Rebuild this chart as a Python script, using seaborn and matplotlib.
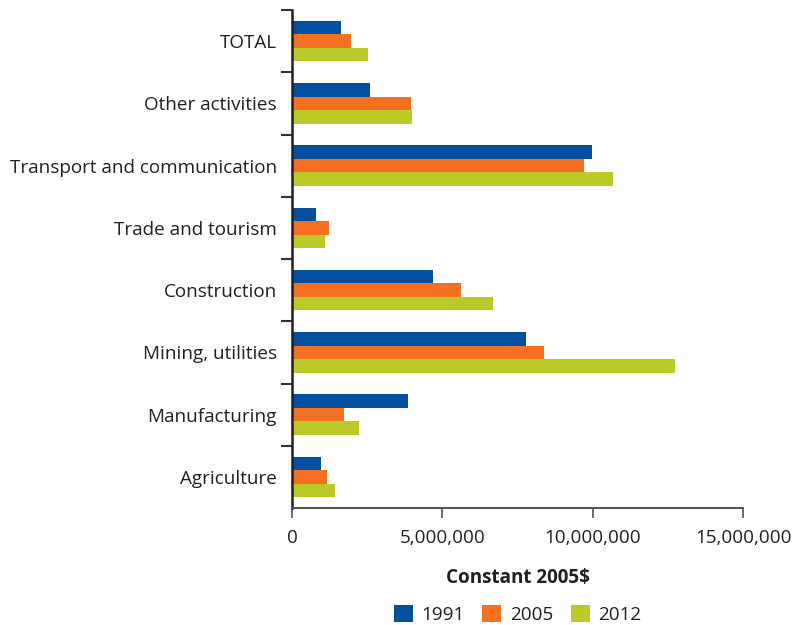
import matplotlib
matplotlib.use("Agg")
import matplotlib.pyplot as plt
import matplotlib.ticker as mticker
import seaborn as sns
import pandas as pd

sectors = ["TOTAL", "Other activities", "Transport and communication",
           "Trade and tourism", "Construction", "Mining, utilities",
           "Manufacturing", "Agriculture"]
years = ["1991", "2005", "2012"]
values_1991 = [1630000, 2590000, 9970000, 800000, 4690000, 7780000, 3860000, 960000]
values_2005 = [1960000, 3950000, 9700000, 1230000, 5620000, 8370000, 1730000, 1160000]
values_2012 = [2530000, 3990000, 10670000, 1100000, 6680000, 12730000, 2230000, 1430000]
colors = ["#0350A3", "#F37021", "#BBCA29"]
xticks = [0, 5000000, 10000000, 15000000]

rows = []
for yr, vals in zip(years, [values_1991, values_2005, values_2012]):
    for s, v in zip(sectors, vals):
        rows.append({"sector": s, "year": yr, "value": v})
df = pd.DataFrame(rows)

sns.set_style("white")
plt.rcParams["font.family"] = ["Open Sans", "DejaVu Sans"]
text_color = "#231F20"
fs = 13.6

fig = plt.figure(figsize=(7.97, 6.25), dpi=100)
ax = fig.add_axes([0.3664, 0.1872, 0.5662, 0.7968])

sns.barplot(data=df, y="sector", x="value", hue="year", order=sectors,
            hue_order=years, palette=colors, width=0.65, saturation=1,
            orient="h", ax=ax, legend=True, linewidth=0, edgecolor="none")

ax.set_xlim(0, 15000000)
ax.set_ylim(len(sectors) - 0.5, -0.5)
ax.set_xticks(xticks)
ax.xaxis.set_major_formatter(mticker.FuncFormatter(lambda v, p: f"{int(v):,}"))
ax.tick_params(axis="x", length=7, width=1.2, color="#555555", labelsize=fs,
               labelcolor=text_color, pad=8, direction="out", bottom=True)

# category labels centered, tick marks on the category boundaries
ax.set_yticks(range(len(sectors)))
ax.set_yticklabels(sectors)
ax.tick_params(axis="y", which="major", length=0, labelsize=fs,
               labelcolor=text_color, pad=11)
ax.set_yticks([i - 0.5 for i in range(len(sectors))], minor=True)
ax.tick_params(axis="y", which="minor", length=8, width=1.5, color="#333333",
               left=True)

for side in ["top", "right"]:
    ax.spines[side].set_visible(False)
ax.spines["left"].set_color("#231F20")
ax.spines["left"].set_linewidth(1.8)
ax.spines["bottom"].set_color("#555555")
ax.spines["bottom"].set_linewidth(1.5)

ax.set_ylabel("")
ax.set_xlabel("Constant 2005$", fontsize=fs, fontweight="bold",
              color=text_color, labelpad=15)

handles, labels = ax.get_legend_handles_labels()
ax.legend(handles, labels, loc="upper center", bbox_to_anchor=(0.5, -0.172),
          ncol=3, frameon=False, fontsize=fs, handlelength=1.0,
          handleheight=1.0, handletextpad=0.45, columnspacing=0.95,
          labelcolor=text_color, borderaxespad=0.2)

fig.savefig("out.png", dpi=100)
